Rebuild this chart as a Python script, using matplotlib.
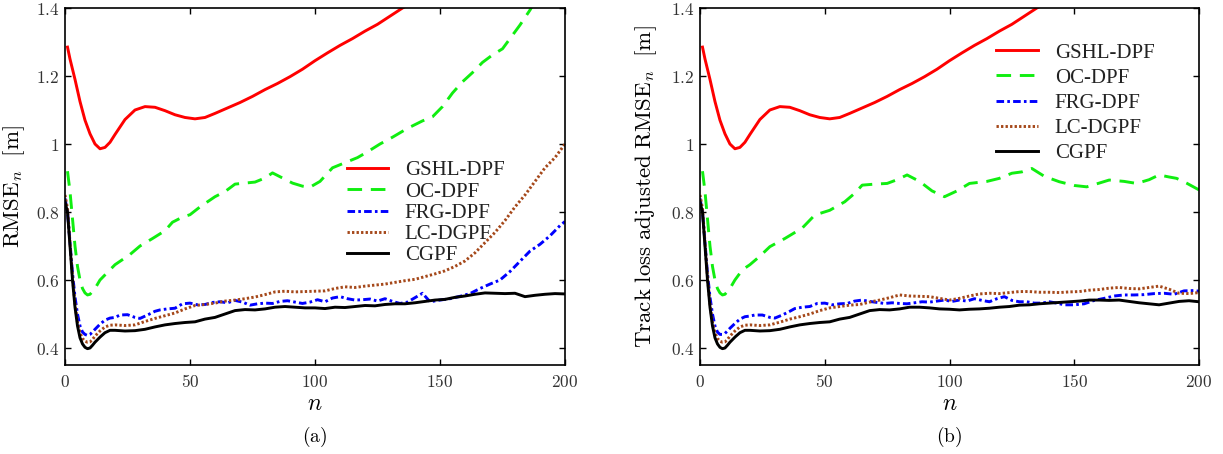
'''
RMSE_n vs time step n for five filters, two panels.
'''

import matplotlib
matplotlib.use('Agg')
import matplotlib.pyplot as plt

# ---- data ----
n_red = [1, 2, 4, 6, 8, 10, 12, 14, 16, 18, 20, 24, 28, 32, 36, 40, 44, 48, 52,
         56, 60, 65, 70, 75, 80, 85, 90, 95, 100, 105, 110, 115, 120, 125, 130,
         135, 140]
gshl = [1.285, 1.25, 1.19, 1.125, 1.07, 1.03, 1.0, 0.986, 0.99, 1.005, 1.028,
        1.072, 1.10, 1.11, 1.108, 1.098, 1.086, 1.078, 1.074, 1.078, 1.09,
        1.106, 1.122, 1.14, 1.16, 1.178, 1.198, 1.22, 1.245, 1.268, 1.29, 1.31,
        1.332, 1.352, 1.376, 1.40, 1.42]

n_oc_a = [1, 2, 3, 4, 5, 6, 7, 8, 9, 10, 12, 14, 16, 18, 20, 23, 26, 30, 35,
          40, 43, 47, 50, 54, 57, 60, 64, 68, 72, 76, 80, 83, 87, 91, 95, 98,
          102, 107, 112, 117, 121, 126, 131, 137, 143, 147, 151, 155, 159, 163,
          167, 171, 175, 178, 182, 186, 188]
oc_a = [0.92, 0.86, 0.78, 0.70, 0.64, 0.60, 0.575, 0.562, 0.556, 0.558, 0.575,
        0.60, 0.615, 0.63, 0.645, 0.66, 0.675, 0.70, 0.722, 0.745, 0.77, 0.785,
        0.792, 0.815, 0.83, 0.845, 0.86, 0.882, 0.885, 0.888, 0.90, 0.915, 0.90,
        0.885, 0.876, 0.873, 0.89, 0.93, 0.945, 0.96, 0.977, 1.0, 1.02, 1.046,
        1.068, 1.08, 1.11, 1.15, 1.183, 1.21, 1.24, 1.262, 1.28, 1.31, 1.35,
        1.394, 1.42]

n_oc_b = [1, 2, 3, 4, 5, 6, 7, 8, 9, 10, 12, 14, 16, 18, 20, 24, 28, 34, 41,
          46, 52, 58, 62, 65, 70, 75, 79, 83, 88, 93, 98, 103, 108, 115, 120,
          125, 129, 133, 138, 144, 150, 155, 160, 164, 170, 175, 180, 184, 188,
          191, 195, 200]
oc_b = [0.92, 0.86, 0.78, 0.70, 0.64, 0.60, 0.575, 0.562, 0.556, 0.558, 0.575,
        0.60, 0.62, 0.635, 0.645, 0.67, 0.698, 0.722, 0.753, 0.791, 0.805,
        0.83, 0.855, 0.879, 0.882, 0.884, 0.895, 0.909, 0.89, 0.862, 0.845,
        0.862, 0.884, 0.89, 0.899, 0.914, 0.918, 0.928, 0.905, 0.889, 0.878,
        0.874, 0.885, 0.894, 0.89, 0.884, 0.895, 0.909, 0.903, 0.899, 0.885,
        0.865]

n_low = [0, 1, 2, 3, 4, 5, 6, 7, 8, 9, 10, 11, 12, 14, 16, 18, 20, 24, 28, 32,
         36, 40, 44, 48, 52, 56, 60, 64, 68, 72, 76, 80, 84, 88, 92, 96, 100,
         104, 108, 112, 116, 120, 124, 128, 132, 136, 140, 144, 148, 152, 156,
         160, 164, 168, 172, 176, 180, 184, 188, 192, 196, 200]
cgpf_a = [0.83, 0.80, 0.70, 0.60, 0.52, 0.465, 0.43, 0.412, 0.402, 0.398, 0.40,
          0.408, 0.417, 0.432, 0.445, 0.452, 0.452, 0.450, 0.451, 0.455, 0.462,
          0.468, 0.472, 0.475, 0.477, 0.485, 0.49, 0.50, 0.51, 0.513, 0.512,
          0.515, 0.52, 0.522, 0.52, 0.518, 0.518, 0.516, 0.52, 0.519, 0.522,
          0.525, 0.524, 0.528, 0.53, 0.53, 0.533, 0.537, 0.541, 0.543, 0.549,
          0.553, 0.558, 0.562, 0.561, 0.56, 0.561, 0.551, 0.555, 0.558, 0.56,
          0.559]
lc_a = [0.85, 0.81, 0.71, 0.61, 0.53, 0.475, 0.445, 0.428, 0.42, 0.417, 0.418,
        0.425, 0.435, 0.45, 0.462, 0.467, 0.468, 0.466, 0.468, 0.478, 0.487,
        0.495, 0.503, 0.515, 0.525, 0.528, 0.532, 0.538, 0.541, 0.545, 0.55,
        0.557, 0.565, 0.567, 0.565, 0.566, 0.567, 0.568, 0.575, 0.58, 0.578,
        0.582, 0.585, 0.588, 0.593, 0.598, 0.602, 0.61, 0.618, 0.627, 0.64,
        0.656, 0.68, 0.71, 0.74, 0.775, 0.815, 0.85, 0.89, 0.93, 0.96, 1.0]
cgpf_b = [0.83, 0.80, 0.70, 0.60, 0.52, 0.465, 0.43, 0.412, 0.402, 0.398, 0.40,
          0.408, 0.417, 0.432, 0.445, 0.452, 0.452, 0.450, 0.451, 0.455, 0.462,
          0.468, 0.472, 0.475, 0.477, 0.485, 0.49, 0.50, 0.51, 0.513, 0.512,
          0.515, 0.52, 0.52, 0.518, 0.515, 0.514, 0.512, 0.514, 0.515, 0.517,
          0.52, 0.522, 0.526, 0.527, 0.53, 0.532, 0.534, 0.536, 0.538, 0.541,
          0.541, 0.54, 0.541, 0.537, 0.533, 0.53, 0.527, 0.532, 0.537, 0.539,
          0.536]
lc_b = [0.85, 0.81, 0.71, 0.61, 0.53, 0.475, 0.445, 0.428, 0.42, 0.417, 0.418,
        0.425, 0.435, 0.45, 0.462, 0.467, 0.468, 0.466, 0.468, 0.476, 0.485,
        0.492, 0.500, 0.510, 0.518, 0.522, 0.526, 0.528, 0.535, 0.541, 0.548,
        0.556, 0.553, 0.552, 0.551, 0.546, 0.541, 0.546, 0.553, 0.559, 0.561,
        0.56, 0.563, 0.566, 0.566, 0.564, 0.564, 0.563, 0.565, 0.566, 0.57,
        0.572, 0.576, 0.578, 0.575, 0.574, 0.578, 0.582, 0.573, 0.561, 0.56,
        0.563]

n_frg = [0, 1, 2, 3, 4, 5, 6, 7, 8, 9, 10, 11, 12, 14, 16, 18, 20, 22, 25, 28,
         30, 33, 36, 38, 41, 44, 47, 50, 53, 56, 59, 62, 65, 68, 71, 74, 77, 80,
         83, 86, 89, 92, 95, 98, 101, 104, 107, 110, 113, 116, 119, 122, 125,
         128, 131, 134, 137, 140, 143, 146, 150, 154, 158, 162, 166, 170, 174,
         178, 182, 186, 190, 194, 198, 200]
frg_a = [0.84, 0.80, 0.71, 0.62, 0.55, 0.50, 0.465, 0.447, 0.44, 0.437, 0.44,
         0.447, 0.455, 0.47, 0.482, 0.488, 0.49, 0.497, 0.498, 0.49, 0.487,
         0.497, 0.508, 0.512, 0.515, 0.517, 0.53, 0.532, 0.527, 0.528, 0.534,
         0.536, 0.533, 0.54, 0.535, 0.526, 0.53, 0.532, 0.531, 0.537, 0.539,
         0.535, 0.531, 0.535, 0.542, 0.536, 0.547, 0.551, 0.545, 0.541, 0.542,
         0.544, 0.538, 0.545, 0.537, 0.531, 0.535, 0.548, 0.561, 0.536, 0.541,
         0.545, 0.552, 0.56, 0.575, 0.588, 0.60, 0.625, 0.655, 0.685, 0.705,
         0.73, 0.76, 0.772]
frg_b = [0.84, 0.80, 0.71, 0.62, 0.55, 0.50, 0.465, 0.447, 0.44, 0.440, 0.443,
         0.45, 0.458, 0.472, 0.485, 0.492, 0.494, 0.497, 0.497, 0.49, 0.488,
         0.497, 0.508, 0.516, 0.52, 0.522, 0.531, 0.532, 0.527, 0.53, 0.531,
         0.538, 0.541, 0.537, 0.534, 0.531, 0.533, 0.531, 0.53, 0.533, 0.536,
         0.535, 0.538, 0.541, 0.537, 0.541, 0.538, 0.545, 0.54, 0.536, 0.545,
         0.551, 0.54, 0.536, 0.536, 0.532, 0.532, 0.536, 0.532, 0.527, 0.527,
         0.53, 0.54, 0.546, 0.553, 0.556, 0.556, 0.557, 0.56, 0.561, 0.558,
         0.568, 0.569, 0.567]

labels = ['GSHL-DPF', 'OC-DPF', 'FRG-DPF', 'LC-DGPF', 'CGPF']
xticks = [0, 50, 100, 150, 200]
xticklabels = ['$0$', '$50$', '$100$', '$150$', '$200$']
yticks = [0.4, 0.6, 0.8, 1.0, 1.2, 1.4]
yticklabels = ['$0.4$', '$0.6$', '$0.8$', '$1$', '$1.2$', '$1.4$']

# ---- style ----
plt.rcParams['mathtext.fontset'] = 'cm'
plt.rcParams['axes.linewidth'] = 1.2
lw = 2.1
styles = [dict(color='#ff0000', ls='-'),
          dict(color='#10ee10', ls=(0, (5, 3))),
          dict(color='#0000ff', ls=(0, (2.6, 1.1, 0.9, 1.1))),
          dict(color='#a5481a', ls=(0, (0.8, 0.75))),
          dict(color='k', ls='-')]

fig = plt.figure(figsize=(12.23, 4.54), dpi=100)
axa = fig.add_axes([65 / 1223, 89 / 454, 500 / 1223, 357 / 454])
axb = fig.add_axes([700 / 1223, 89 / 454, 499 / 1223, 357 / 454])

panels = [
    (axa, [(n_red, gshl), (n_oc_a, oc_a), (n_frg, frg_a), (n_low, lc_a),
           (n_low, cgpf_a)],
     r'$\mathrm{RMSE}_n\ \ [\mathrm{m}]$', -0.076, (0.563, 0.572), 0.08, '(a)'),
    (axb, [(n_red, gshl), (n_oc_b, oc_b), (n_frg, frg_b), (n_low, lc_b),
           (n_low, cgpf_b)],
     r'$\mathrm{Track\ loss\ adjusted\ RMSE}_n\ \ [\mathrm{m}]$', -0.082,
     (0.594, 0.902), 0.27, '(b)'),
]

for ax, series, ylab, ylx, lpos, lsp, tag in panels:
    for (x, y), st, lab in zip(series, styles, labels):
        ax.plot(x, y, lw=lw, label=lab, dash_capstyle='butt', **st)
    ax.set_xlim(0, 200)
    ax.set_ylim(0.35, 1.4)
    ax.set_xticks(xticks, xticklabels)
    ax.set_yticks(yticks, yticklabels)
    ax.tick_params(direction='in', top=True, right=True, length=4,
                   width=1.0, labelsize=12.5, colors='k', labelcolor='#333333')
    ax.tick_params(axis='x', pad=6)
    ax.tick_params(axis='y', pad=4)
    ax.set_xlabel('$n$', fontsize=17)
    ax.xaxis.set_label_coords(0.5, -0.073)
    ax.set_ylabel(ylab, fontsize=16.5)
    ax.yaxis.set_label_coords(ylx, 0.5)
    leg = ax.legend(loc='upper left', bbox_to_anchor=lpos, frameon=False,
                    prop={'family': 'Liberation Serif', 'size': 15},
                    handlelength=2.0, handletextpad=0.8, labelspacing=lsp,
                    borderpad=0, borderaxespad=0)
    for t in leg.get_texts():
        t.set_color('#222222')
    pos = ax.get_position()
    fig.text(pos.x0 + pos.width * 0.5, 1 - 437 / 454,
             r'$(\mathrm{%s})$' % tag[1], ha='center', va='center',
             fontsize=14)

fig.savefig('out.png', dpi=100)
